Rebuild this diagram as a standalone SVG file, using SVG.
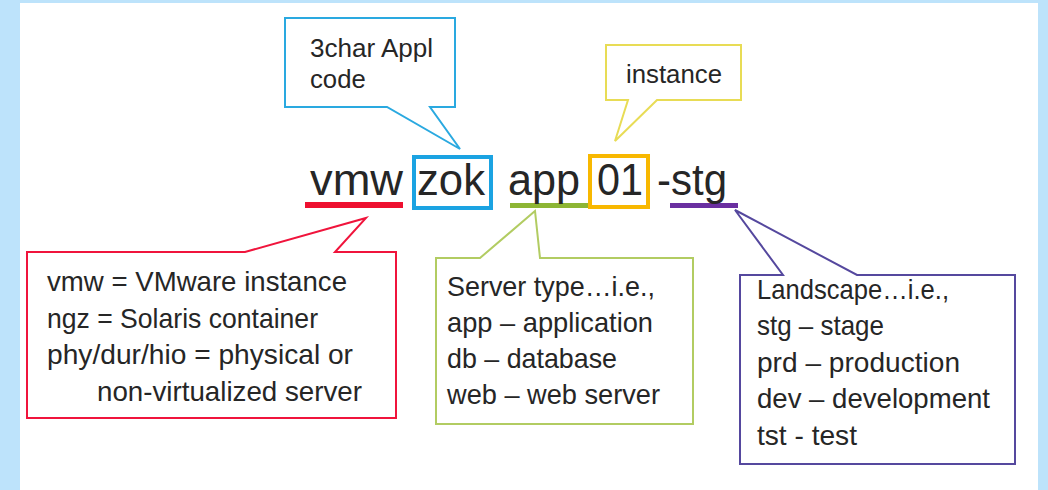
<svg xmlns="http://www.w3.org/2000/svg" width="1048" height="490" viewBox="0 0 1048 490">
<style>
  text { font-family: "Liberation Sans", Arial, sans-serif; fill: #262626; }
  .big { font-size: 45px; }
  .mid { font-size: 25.7px; }
  .sm { font-size: 27.6px; }
  .call { fill: #ffffff; stroke-width: 2; stroke-linejoin: miter; }
</style>
<rect x="0" y="0" width="1048" height="490" fill="#bde3fb"/>
<rect x="20" y="3" width="1018" height="487" fill="#ffffff"/>

<g id="connectors">
  <path id="c-blue" class="call" stroke="#2aa9e0" d="M285,18 H455 V107 H430 L460,149 L387,107 H285 Z"/>
  <path id="c-yellow" class="call" stroke="#e8dc55" d="M606,45 H741 V100 H657 L615,141 L628,100 H606 Z"/>
  <path id="c-red" class="call" stroke="#f0143c" d="M27,252 H245 L366,218 L335,252 H396 V418 H27 Z"/>
  <path id="c-green" class="call" stroke="#b2cc62" d="M436,258 H480 L535,211 L540,258 H693 V424 H436 Z"/>
  <path id="c-purple" class="call" stroke="#55489e" d="M740,275 H783 L735,210 L857,275 H1015 V464 H740 Z"/>
</g>

<g id="name">
  <rect x="305" y="202" width="98" height="6" fill="#ee1030"/>
  <rect x="414" y="157" width="77" height="51" fill="none" stroke="#1ba3e2" stroke-width="4"/>
  <rect x="510" y="203" width="78" height="5" fill="#8db534"/>
  <rect x="590" y="156" width="58" height="51" fill="none" stroke="#f8b800" stroke-width="4"/>
  <rect x="670" y="203" width="68" height="5" fill="#6a2fa0"/>
  <text class="big" x="310" y="195" textLength="93" lengthAdjust="spacingAndGlyphs">vmw</text>
  <text class="big" x="417" y="195" textLength="68" lengthAdjust="spacingAndGlyphs">zok</text>
  <text class="big" x="508" y="195" textLength="72" lengthAdjust="spacingAndGlyphs">app</text>
  <text class="big" x="597" y="195" textLength="46" lengthAdjust="spacingAndGlyphs">01</text>
  <text class="big" x="657" y="195" textLength="70" lengthAdjust="spacingAndGlyphs">-stg</text>
</g>

<g id="node-appl">
  <text class="mid" x="310" y="57" textLength="123" lengthAdjust="spacingAndGlyphs">3char Appl</text>
  <text class="mid" x="310" y="88">code</text>
</g>

<g id="node-instance">
  <text class="mid" x="626" y="83" textLength="96" lengthAdjust="spacingAndGlyphs">instance</text>
</g>

<g id="node-vmw">
  <text class="sm" x="47" y="291" textLength="300" lengthAdjust="spacingAndGlyphs">vmw = VMware instance</text>
  <text class="sm" x="47" y="328" textLength="271" lengthAdjust="spacingAndGlyphs">ngz = Solaris container</text>
  <text class="sm" x="47" y="364" textLength="306" lengthAdjust="spacingAndGlyphs">phy/dur/hio = physical or</text>
  <text class="sm" x="97" y="401" textLength="265" lengthAdjust="spacingAndGlyphs">non-virtualized server</text>
</g>

<g id="node-server">
  <text class="sm" x="447" y="296" textLength="208" lengthAdjust="spacingAndGlyphs">Server type…i.e.,</text>
  <text class="sm" x="447" y="332" textLength="206" lengthAdjust="spacingAndGlyphs">app – application</text>
  <text class="sm" x="447" y="368" textLength="170" lengthAdjust="spacingAndGlyphs">db – database</text>
  <text class="sm" x="447" y="404" textLength="213" lengthAdjust="spacingAndGlyphs">web – web server</text>
</g>

<g id="node-landscape">
  <text class="sm" x="757" y="299" textLength="192" lengthAdjust="spacingAndGlyphs">Landscape…i.e.,</text>
  <text class="sm" x="757" y="335" textLength="127" lengthAdjust="spacingAndGlyphs">stg – stage</text>
  <text class="sm" x="757" y="372" textLength="203" lengthAdjust="spacingAndGlyphs">prd – production</text>
  <text class="sm" x="757" y="408" textLength="233" lengthAdjust="spacingAndGlyphs">dev – development</text>
  <text class="sm" x="757" y="445" textLength="100" lengthAdjust="spacingAndGlyphs">tst - test</text>
</g>
</svg>
